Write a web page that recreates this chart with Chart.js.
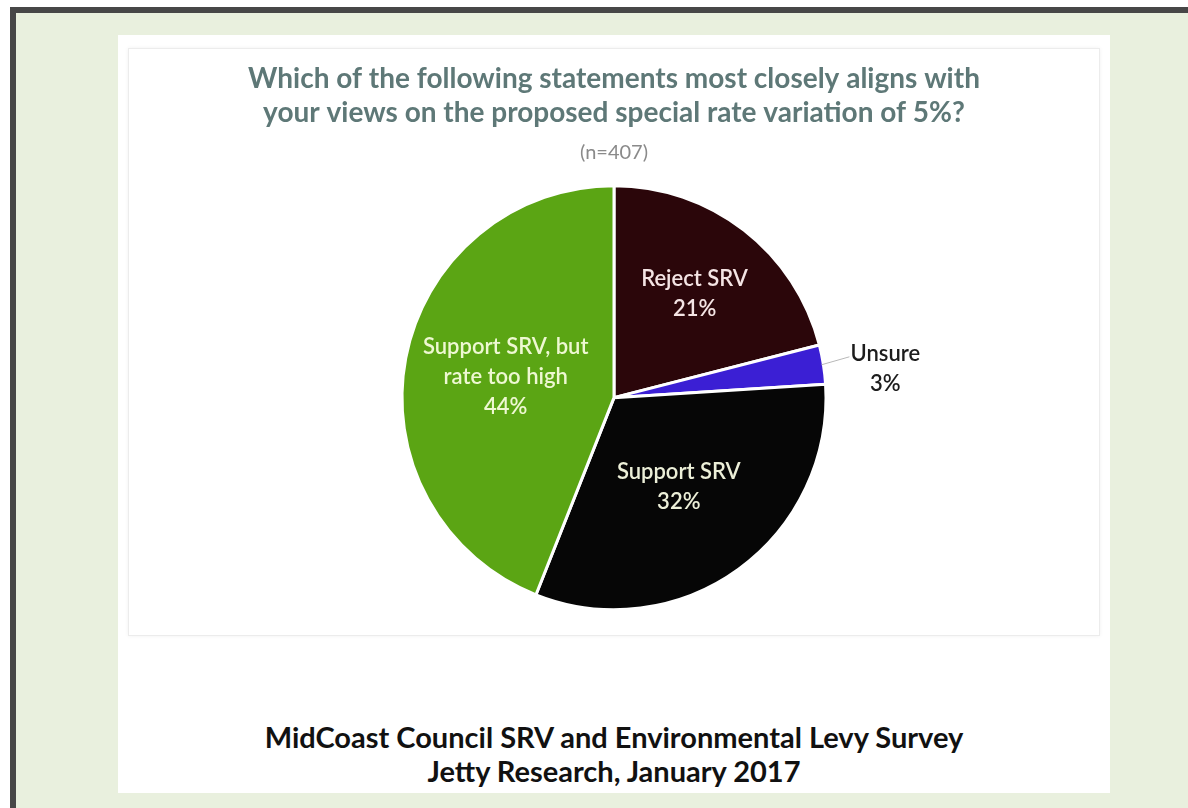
<!DOCTYPE html>
<html>
<head>
<meta charset="utf-8">
<title>SRV survey</title>
<script src="https://cdn.jsdelivr.net/npm/chart.js@4.4.1/dist/chart.umd.min.js"></script>
<style>
  html, body { margin: 0; padding: 0; background: #fff; width: 1188px; height: 808px; overflow: hidden; }
  .frame {
    position: absolute; left: 10px; top: 7px; width: 1200px; height: 820px;
    border-left: 6px solid #474747; border-top: 6px solid #474747;
    background: #e9f0de;
  }
  .sheet { position: absolute; left: 118px; top: 35px; width: 992px; height: 758px; background: #fff; }
  .card {
    position: absolute; left: 128px; top: 48px; width: 970px; height: 586px;
    border: 1px solid #ececec; box-shadow: 0 0 4px rgba(0,0,0,0.06); background: #fff;
  }
  .card canvas { display: block; }
  .footer {
    position: absolute; left: 118px; width: 992px; top: 720px; text-align: center;
    font-family: Lato, sans-serif; font-weight: 700; font-size: 29px; line-height: 34px; color: #111;
  }
</style>
</head>
<body>
<div class="frame"></div>
<div class="sheet"></div>
<div class="card"><canvas id="myChart" width="970" height="586"></canvas></div>
<div class="footer">MidCoast Council SRV and Environmental Levy Survey<br>Jetty Research, January 2017</div>

<script>
const categories = [['Reject SRV'], ['Unsure'], ['Support SRV'], ['Support SRV, but', 'rate too high']];
const shares = [21, 3, 32, 44];
const sliceColors = ['#2b060a', '#3b1fd4', '#060606', '#5ba514'];
const labelColors = ['#f4e4e4', '#1c1c1c', '#ecefd8', '#eef8d2'];
// label distance as a fraction of the radius; 0 means outside with a leader line
const labelRadius = [0.62, 0, 0.52, 0.52];

const sliceLabels = {
    id: 'sliceLabels',
    afterDatasetsDraw(chart) {
        const ctx = chart.ctx;
        const meta = chart.getDatasetMeta(0);
        ctx.save();
        ctx.font = '600 22px Lato, sans-serif';
        ctx.textAlign = 'center';
        ctx.textBaseline = 'middle';
        meta.data.forEach(function(arc, i) {
            const p = arc.getProps(['x', 'y', 'startAngle', 'endAngle', 'outerRadius'], true);
            const mid = (p.startAngle + p.endAngle) / 2;
            const lines = categories[i].concat([shares[i] + '%']);
            const lh = 30;
            let x, y;
            if (labelRadius[i] === 0) {
                // small slice: text to the right, joined by a thin leader line
                const ex = p.x + Math.cos(mid) * (p.outerRadius - 2);
                const ey = p.y + Math.sin(mid) * (p.outerRadius - 2);
                x = ex + 64;
                y = ey + 4;
                ctx.strokeStyle = '#b8b8b8';
                ctx.lineWidth = 1;
                ctx.beginPath();
                ctx.moveTo(ex, ey);
                ctx.lineTo(x - 36, y - 12);
                ctx.stroke();
            } else {
                const r = p.outerRadius * labelRadius[i];
                x = p.x + Math.cos(mid) * r;
                y = p.y + Math.sin(mid) * r;
            }
            ctx.fillStyle = labelColors[i];
            lines.forEach(function(line, j) {
                ctx.fillText(line, x, y + (j - (lines.length - 1) / 2) * lh);
            });
        });
        ctx.restore();
    }
};

document.addEventListener('DOMContentLoaded', function() {
    const data = {
        labels: categories,
        datasets: [{
            data: shares,
            backgroundColor: sliceColors,
            borderColor: '#ffffff',
            borderWidth: 3
        }]
    };

    const config = {
        type: 'pie',
        data: data,
        options: {
            responsive: false,
            animation: false,
            radius: 212,
            layout: { padding: { top: 0, bottom: 24 } },
            plugins: {
                legend: { display: false },
                tooltip: { enabled: false },
                title: {
                    display: true,
                    text: ['Which of the following statements most closely aligns with',
                           'your views on the proposed special rate variation of 5%?'],
                    color: '#5e7877',
                    font: { family: 'Lato, sans-serif', size: 28, weight: 'bold', lineHeight: 1.22 },
                    padding: { top: 13, bottom: 10 }
                },
                subtitle: {
                    display: true,
                    text: '(n=407)',
                    color: '#8a8a8a',
                    font: { family: 'Lato, sans-serif', size: 20, weight: 'normal' },
                    padding: { bottom: 20 }
                }
            }
        },
        plugins: [sliceLabels]
    };

    const ctx = document.getElementById('myChart').getContext('2d');
    new Chart(ctx, config);
});
</script>
</body>
</html>
